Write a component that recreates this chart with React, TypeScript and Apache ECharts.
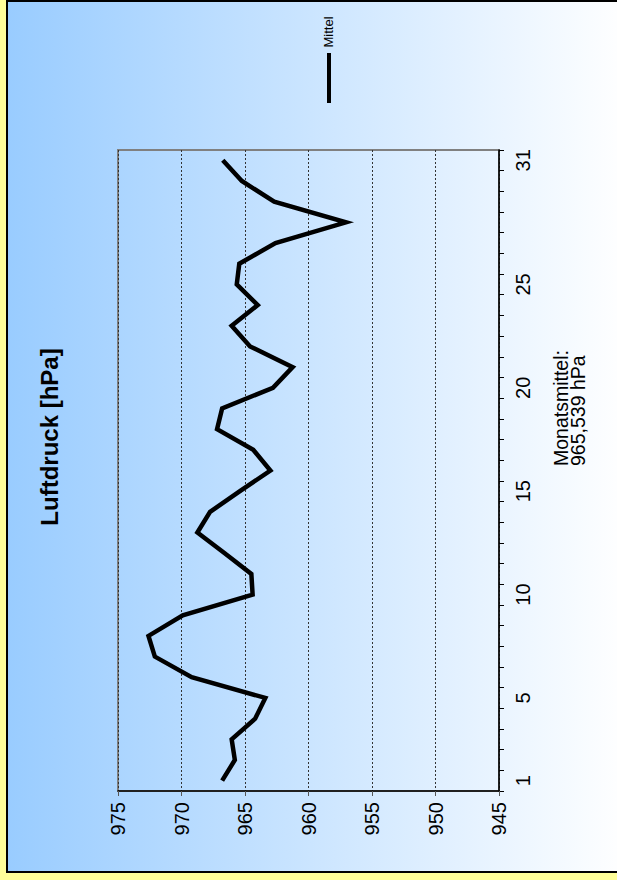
import React, { useEffect, useRef } from "react";
import * as echarts from "echarts";

const days: string[] = [
  "1", "2", "3", "4", "5", "6", "7", "8", "9", "10",
  "11", "12", "13", "14", "15", "16", "17", "18", "19", "20",
  "21", "22", "23", "24", "25", "26", "27", "28", "29", "30", "31",
];
const mittel: number[] = [
  966.8, 965.8, 966.05, 964.2, 963.4, 969.2, 972.1, 972.6, 969.9, 964.4,
  964.5, 966.6, 968.75, 967.75, 965.4, 963.0, 964.35, 967.2, 966.8, 962.8,
  961.25, 964.6, 966.05, 964.0, 965.65, 965.45, 962.6, 957.05, 962.7, 965.25,
  966.75,
];
const shownDayLabels: string[] = ["1", "5", "10", "15", "20", "25", "31"];
const titleText = "Luftdruck [hPa]";
const seriesName = "Mittel";
const meanText = "Monatsmittel:\n965,539 hPa";

const FONT = "'Liberation Sans', Arial, sans-serif";

export default function App() {
  const ref = useRef<HTMLDivElement>(null);
  useEffect(() => {
    if (!ref.current) return;
    const chart = echarts.init(ref.current, undefined, { renderer: "svg" });
    chart.setOption({
      animation: false,
      backgroundColor: "#ffff99",
      graphic: [
        {
          type: "rect",
          z: -10,
          silent: true,
          shape: { x: 7, y: 1, width: 620, height: 871 },
          style: {
            fill: new echarts.graphic.LinearGradient(0, 0, 1, 0, [
              { offset: 0, color: "#99ccff" },
              { offset: 1, color: "#ffffff" },
            ]),
            stroke: "#000000",
            lineWidth: 2,
          },
        },
        {
          type: "text",
          x: 49,
          y: 437,
          rotation: Math.PI / 2,
          style: {
            text: titleText,
            font: `bold 24px ${FONT}`,
            textAlign: "center",
            textVerticalAlign: "middle",
            fill: "#000",
          },
        },
        {
          type: "line",
          shape: { x1: 329, y1: 53, x2: 329, y2: 103 },
          style: { stroke: "#000", lineWidth: 4 },
        },
        {
          type: "text",
          x: 328,
          y: 32,
          rotation: Math.PI / 2,
          style: {
            text: seriesName,
            font: `13px ${FONT}`,
            textAlign: "center",
            textVerticalAlign: "middle",
            fill: "#000",
          },
        },
        {
          type: "text",
          x: 569,
          y: 466,
          rotation: Math.PI / 2,
          style: {
            text: meanText,
            font: `19.5px ${FONT}`,
            lineHeight: 17,
            textAlign: "left",
            textVerticalAlign: "middle",
            fill: "#000",
          },
        },
      ],
      grid: {
        left: 118,
        top: 150,
        width: 381,
        height: 641,
        show: true,
        borderColor: "#808080",
        borderWidth: 2,
        backgroundColor: "transparent",
      },
      xAxis: {
        type: "value",
        min: 945,
        max: 975,
        interval: 5,
        inverse: true,
        position: "bottom",
        axisLine: { show: true, lineStyle: { color: "#000", width: 1.5 } },
        axisTick: { show: true, length: 5, lineStyle: { color: "#555" } },
        axisLabel: {
          rotate: 90,
          fontSize: 20,
          fontFamily: FONT,
          color: "#000",
          margin: 11,
        },
        splitLine: {
          show: true,
          lineStyle: { type: [2, 2], color: "#333", width: 1 },
        },
      },
      yAxis: {
        type: "category",
        data: days,
        position: "right",
        boundaryGap: true,
        axisLine: { show: true, lineStyle: { color: "#000", width: 1.5 } },
        axisTick: { show: true, interval: 0, length: 5, lineStyle: { color: "#000" } },
        axisLabel: {
          interval: (i: number, v: string) => shownDayLabels.includes(v),
          rotate: 90,
          fontSize: 20,
          fontFamily: FONT,
          color: "#000",
          margin: 14,
        },
        splitLine: { show: false },
      },
      series: [
        {
          name: seriesName,
          type: "line",
          data: mittel,
          symbol: "none",
          lineStyle: { color: "#000", width: 4.5, join: "miter" },
        },
      ],
    });
    return () => chart.dispose();
  }, []);
  return (
    <div
      ref={ref}
      style={{ position: "absolute", left: 0, top: 0, width: 617, height: 880 }}
    />
  );
}
